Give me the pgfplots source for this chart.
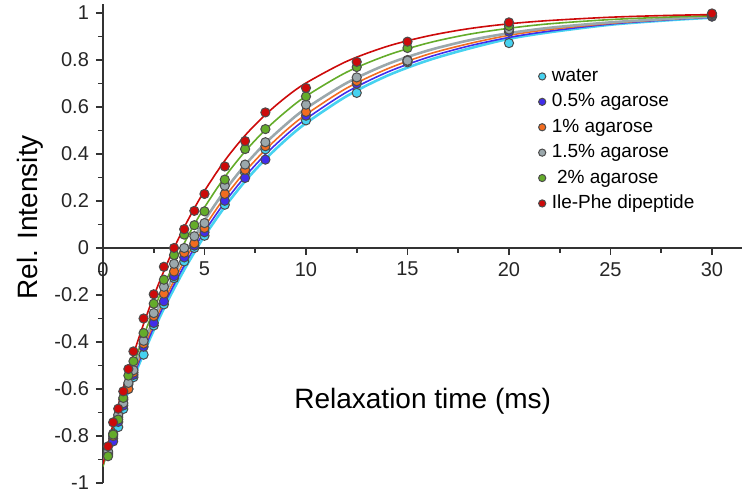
\documentclass[border=0pt]{standalone}
\usepackage{fontspec}
\setmainfont{Liberation Sans}
\usepackage{pgfplots}
\pgfplotsset{compat=1.18}
\definecolor{cw}{RGB}{70,210,240}
\definecolor{cb}{RGB}{65,45,235}
\definecolor{co}{RGB}{242,108,32}
\definecolor{cg}{RGB}{155,168,172}
\definecolor{cgr}{RGB}{100,172,42}
\definecolor{cr}{RGB}{205,10,10}
\begin{document}
\begin{tikzpicture}
\begin{axis}[
  scale only axis, width=319.7pt, height=239.7pt,
  at={(0,0)}, anchor=south west,
  xmin=0, xmax=31.5, ymin=-1, ymax=1.04,
  axis x line=middle, axis y line=left,
  axis line style={-, line width=1pt, black!80},
  hide obscured x ticks=false, hide obscured y ticks=false,
  xtick={0,5,10,15,20,25,30},
  minor xtick={2.5,7.5,12.5,17.5,22.5,27.5},
  ytick={-1,-0.8,-0.6,-0.4,-0.2,0,0.2,0.4,0.6,0.8,1},
  yticklabels={-1,-0.8,-0.6,-0.4,-0.2,0,0.2,0.4,0.6,0.8,1},
  minor ytick={-0.9,-0.7,-0.5,-0.3,-0.1,0.1,0.3,0.5,0.7,0.9},
  tick align=outside, major tick length=3.5pt, minor tick length=2.5pt,
  tick style={line width=0.8pt, black!80},
  /pgf/number format/assume math mode=true,
  tick label style={font=\fontsize{10}{12}\selectfont, text=black!85},
  xlabel={Relaxation time (ms)},
  ylabel={Rel. Intensity},
  xlabel style={at={(axis description cs:0.5,0.171)}, anchor=center, font=\fontsize{14}{16}\selectfont},
  ylabel style={at={(axis description cs:-0.114,0.554)}, anchor=center, font=\fontsize{14}{16}\selectfont},
  legend image code/.code={\draw[#1, mark size=1.8pt] plot coordinates {(0cm,0cm)};},
  legend cell align=left,
  legend style={draw=none, fill=none, inner sep=0pt, row sep=3.7pt, column sep=3pt,
    nodes={inner sep=0pt, text height=7pt, text depth=2pt},
    font=\fontsize{9.5}{11}\selectfont,
    at={(axis cs:21.44,0.77)}, anchor=north west},
]
% fitted curves
\addplot[cw, line width=1.3pt, smooth, forget plot] coordinates {(0,-0.920)(0.5,-0.789)(1,-0.668)(1.5,-0.554)(2,-0.449)(2.5,-0.350)(3,-0.258)(3.5,-0.173)(4,-0.093)(4.5,-0.019)(5,0.051)(6,0.175)(7,0.284)(8,0.378)(9,0.460)(10,0.531)(12,0.646)(14,0.733)(16,0.798)(18,0.848)(20,0.890)(22,0.918)(25,0.950)(28,0.970)(30,0.980)};
\addplot[cb, line width=0.8pt, smooth, forget plot] coordinates {(0,-0.920)(0.5,-0.786)(1,-0.661)(1.5,-0.545)(2,-0.437)(2.5,-0.337)(3,-0.243)(3.5,-0.156)(4,-0.075)(4.5,0.000)(5,0.070)(6,0.195)(7,0.304)(8,0.398)(9,0.479)(10,0.549)(12,0.663)(14,0.748)(16,0.811)(18,0.859)(20,0.896)(22,0.923)(25,0.953)(28,0.972)(30,0.982)};
\addplot[co, line width=0.8pt, smooth, forget plot] coordinates {(0,-0.920)(0.5,-0.782)(1,-0.654)(1.5,-0.535)(2,-0.424)(2.5,-0.322)(3,-0.227)(3.5,-0.139)(4,-0.057)(4.5,0.019)(5,0.090)(6,0.216)(7,0.325)(8,0.418)(9,0.499)(10,0.568)(12,0.680)(14,0.762)(16,0.824)(18,0.869)(20,0.905)(22,0.930)(25,0.956)(28,0.974)(30,0.984)};
\addplot[cg, line width=1.3pt, smooth, forget plot] coordinates {(0,-0.920)(0.5,-0.777)(1,-0.644)(1.5,-0.521)(2,-0.407)(2.5,-0.302)(3,-0.205)(3.5,-0.115)(4,-0.032)(4.5,0.045)(5,0.117)(6,0.244)(7,0.353)(8,0.446)(9,0.525)(10,0.594)(12,0.702)(14,0.782)(16,0.840)(18,0.883)(20,0.914)(22,0.937)(25,0.960)(28,0.976)(30,0.985)};
\addplot[cgr, line width=0.8pt, smooth, forget plot] coordinates {(0,-0.930)(0.5,-0.773)(1,-0.629)(1.5,-0.497)(2,-0.375)(2.5,-0.263)(3,-0.161)(3.5,-0.066)(4,0.020)(4.5,0.100)(5,0.173)(6,0.302)(7,0.411)(8,0.503)(9,0.580)(10,0.646)(12,0.748)(14,0.820)(16,0.872)(18,0.909)(20,0.935)(22,0.954)(25,0.972)(28,0.983)(30,0.988)};
\addplot[cr, line width=0.8pt, smooth, forget plot] coordinates {(0,-0.920)(0.5,-0.749)(1,-0.594)(1.5,-0.452)(2,-0.323)(2.5,-0.205)(3,-0.098)(3.5,0.000)(4,0.088)(4.5,0.169)(5,0.243)(6,0.372)(7,0.479)(8,0.567)(9,0.641)(10,0.702)(12,0.794)(14,0.858)(16,0.902)(18,0.933)(20,0.954)(22,0.968)(25,0.982)(28,0.990)(30,0.993)};
% data points
\addplot[only marks, mark=*, mark size=2.3pt, mark options={fill=cw, draw=black!70, line width=0.5pt}] coordinates {(0.25,-0.880)(0.5,-0.810)(0.75,-0.762)(1,-0.685)(1.25,-0.600)(1.5,-0.550)(2,-0.454)(2.5,-0.330)(3,-0.240)(3.5,-0.128)(4,-0.057)(4.5,0.000)(5,0.052)(6,0.184)(7,0.320)(8,0.420)(10,0.543)(12.5,0.660)(15,0.790)(20,0.872)(30,0.985)};
\addlegendentry{water}
\addplot[only marks, mark=*, mark size=2.3pt, mark options={fill=cb, draw=black!70, line width=0.5pt}] coordinates {(0.25,-0.875)(0.5,-0.823)(0.75,-0.740)(1,-0.670)(1.25,-0.580)(1.5,-0.540)(2,-0.420)(2.5,-0.319)(3,-0.227)(3.5,-0.120)(4,-0.040)(4.5,0.010)(5,0.067)(6,0.201)(7,0.298)(8,0.376)(10,0.563)(12.5,0.699)(15,0.795)(20,0.920)(30,0.985)};
\addlegendentry{0.5\% agarose}
\addplot[only marks, mark=*, mark size=2.3pt, mark options={fill=co, draw=black!70, line width=0.5pt}] coordinates {(0.25,-0.870)(0.5,-0.800)(0.75,-0.720)(1,-0.645)(1.25,-0.600)(1.5,-0.530)(2,-0.407)(2.5,-0.290)(3,-0.194)(3.5,-0.100)(4,-0.020)(4.5,0.020)(5,0.085)(6,0.230)(7,0.333)(8,0.433)(10,0.579)(12.5,0.710)(15,0.800)(20,0.930)(30,0.990)};
\addlegendentry{1\% agarose}
\addplot[only marks, mark=*, mark size=2.3pt, mark options={fill=cg, draw=black!70, line width=0.5pt}] coordinates {(0.25,-0.865)(0.5,-0.790)(0.75,-0.710)(1,-0.660)(1.25,-0.574)(1.5,-0.520)(2,-0.395)(2.5,-0.277)(3,-0.165)(3.5,-0.067)(4,0.000)(4.5,0.050)(5,0.106)(6,0.265)(7,0.355)(8,0.450)(10,0.610)(12.5,0.726)(15,0.797)(20,0.930)(30,0.990)};
\addlegendentry{1.5\% agarose}
\addplot[only marks, mark=*, mark size=2.3pt, mark options={fill=cgr, draw=black!70, line width=0.5pt}] coordinates {(0.25,-0.886)(0.5,-0.794)(0.75,-0.730)(1,-0.638)(1.25,-0.543)(1.5,-0.482)(2,-0.362)(2.5,-0.237)(3,-0.135)(3.5,-0.030)(4,0.057)(4.5,0.097)(5,0.156)(6,0.291)(7,0.421)(8,0.506)(10,0.645)(12.5,0.770)(15,0.851)(20,0.945)(30,0.995)};
\addlegendentry{\ 2\% agarose}
\addplot[only marks, mark=*, mark size=2.3pt, mark options={fill=cr, draw=black!70, line width=0.5pt}] coordinates {(0.25,-0.844)(0.5,-0.742)(0.75,-0.684)(1,-0.610)(1.25,-0.515)(1.5,-0.440)(2,-0.300)(2.5,-0.197)(3,-0.080)(3.5,0.000)(4,0.080)(4.5,0.158)(5,0.230)(6,0.347)(7,0.455)(8,0.577)(10,0.681)(12.5,0.792)(15,0.878)(20,0.960)(30,0.998)};
\addlegendentry{Ile-Phe dipeptide}
\end{axis}
\pgfresetboundingbox
\path[use as bounding box] (-51.5pt,-6.5pt) rectangle (320.5pt,241.5pt);
\end{tikzpicture}
\end{document}
